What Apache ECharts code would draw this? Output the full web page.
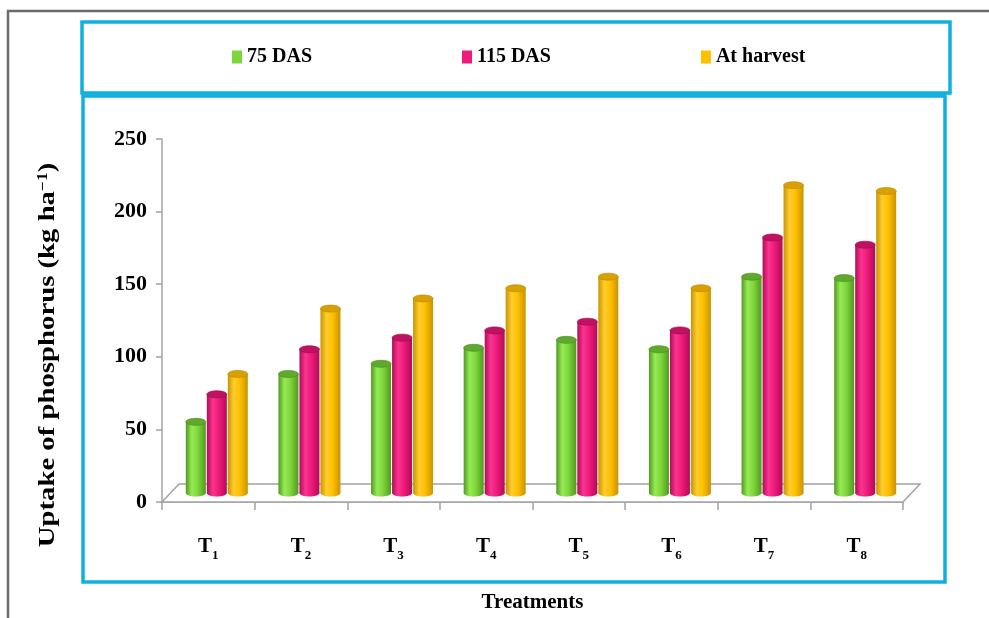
<!DOCTYPE html>
<html>
<head>
<meta charset="utf-8">
<script src="https://cdn.jsdelivr.net/npm/echarts@6/dist/echarts.min.js"></script>
<style>
  html, body { margin: 0; padding: 0; background: #ffffff; }
  #chart { width: 989px; height: 618px; }
</style>
</head>
<body>
<div id="chart"></div>
<script>
// Phosphorus uptake (kg/ha) per treatment at three sampling stages
const categories = ['T1', 'T2', 'T3', 'T4', 'T5', 'T6', 'T7', 'T8'];
const das75     = [49, 82, 89, 100, 105.5, 99, 149, 148];
const das115    = [68, 99, 107, 112, 118, 112, 176, 171];
const atHarvest = [82, 127, 134, 141, 149, 141, 212, 208];
const seriesNames = ['75 DAS', '115 DAS', 'At harvest'];
const yTicks = [0, 50, 100, 150, 200, 250];
const yTitle = 'Uptake of phosphorus (kg ha{sup|\u22121})';

// 3-D look: depth of the floor and spacing of the cylinders in a group
const DEPTH_X = 17, DEPTH_Y = 18;
const SLOT = 21, RADIUS = 10, RY = 3.5;

const palettes = [
  { base: '#7fd63c', light: '#97ea55', dark: '#4f9a20', top: '#5fa92c', edge: '#4a8c1e' },
  { base: '#ee1a7b', light: '#f9358f', dark: '#b10c57', top: '#c01262', edge: '#9a0b4c' },
  { base: '#ffc000', light: '#ffcd2e', dark: '#c99400', top: '#d8a000', edge: '#b98a00' }
];

const FONT = '"Liberation Serif", "Times New Roman", serif';

function cylinder(slot) {
  const p = palettes[slot];
  return function (params, api) {
    const idx = api.value(0);
    const v = api.value(1);
    const top = api.coord([idx, v]);
    const base = api.coord([idx, 0]);
    const cx = top[0] + DEPTH_X / 2 + (slot - 1) * SLOT;
    const yTop = top[1] - DEPTH_Y / 2;
    const yBase = base[1] - DEPTH_Y / 2;
    const grad = new echarts.graphic.LinearGradient(0, 0, 1, 0, [
      { offset: 0, color: p.dark },
      { offset: 0.3, color: p.light },
      { offset: 0.6, color: p.base },
      { offset: 1, color: p.dark }
    ]);
    return {
      type: 'group',
      children: [
        { type: 'ellipse', shape: { cx: cx, cy: yBase, rx: RADIUS, ry: RY }, style: { fill: grad } },
        { type: 'rect', shape: { x: cx - RADIUS, y: yTop, width: RADIUS * 2, height: yBase - yTop }, style: { fill: grad } },
        { type: 'ellipse', shape: { cx: cx, cy: yTop, rx: RADIUS, ry: RY }, style: { fill: p.top, stroke: p.edge, lineWidth: 0.6 } }
      ]
    };
  };
}

function floor(params) {
  const c = params.coordSys;
  const x0 = c.x, x1 = c.x + c.width, yb = c.y + c.height;
  return {
    type: 'polygon',
    shape: { points: [[x0, yb], [x1, yb], [x1 + DEPTH_X, yb - DEPTH_Y], [x0 + DEPTH_X, yb - DEPTH_Y]] },
    style: { fill: '#ffffff', stroke: '#a3a3a3', lineWidth: 1.5 }
  };
}

const values = [das75, das115, atHarvest];

const chart = echarts.init(document.getElementById('chart'), null, { renderer: 'canvas' });
chart.setOption({
  animation: false,
  backgroundColor: '#ffffff',
  graphic: [
    { type: 'rect', silent: true, shape: { x: 8, y: 11, width: 1000, height: 700 },
      style: { fill: 'none', stroke: '#6b6b6b', lineWidth: 2.5 } },
    { type: 'rect', silent: true, shape: { x: 82, y: 22, width: 868, height: 71 },
      style: { fill: 'none', stroke: '#0fb0e0', lineWidth: 3.5 } },
    { type: 'rect', silent: true, shape: { x: 83, y: 96, width: 862, height: 486 },
      style: { fill: 'none', stroke: '#0fb0e0', lineWidth: 3.5 } },
    // vertical axis title, stretched along its length
    { type: 'text', silent: true, x: 48, y: 355, rotation: Math.PI / 2, scaleX: 1.25,
      style: {
        text: yTitle, align: 'center', verticalAlign: 'middle',
        fontFamily: FONT, fontWeight: 'bold', fontSize: 23, fill: '#000',
        rich: { sup: { fontFamily: FONT, fontWeight: 'bold', fontSize: 14, fill: '#000', verticalAlign: 'top' } }
      } }
  ],
  legend: {
    data: seriesNames,
    left: 232,
    top: 47,
    icon: 'rect',
    itemWidth: 10,
    itemHeight: 13,
    itemGap: 150,
    padding: 0,
    textStyle: { fontFamily: FONT, fontWeight: 'bold', fontSize: 20, color: '#000' }
  },
  grid: { left: 162, right: 86, top: 139, bottom: 113, containLabel: false },
  xAxis: {
    type: 'category',
    data: categories,
    boundaryGap: true,
    axisLine: { show: true, lineStyle: { color: '#a3a3a3', width: 1.5 } },
    axisTick: { show: true, length: 8, lineStyle: { color: '#a3a3a3', width: 1.5 } },
    axisLabel: {
      margin: 34,
      formatter: function (v) { return '{t|T}{s|' + v.slice(1) + '}'; },
      rich: {
        t: { fontFamily: FONT, fontWeight: 'bold', fontSize: 21, color: '#000', padding: [0, 0, 5, 0] },
        s: { fontFamily: FONT, fontWeight: 'bold', fontSize: 13, color: '#000', verticalAlign: 'bottom' }
      }
    },
    name: 'Treatments',
    nameLocation: 'middle',
    nameGap: 90,
    nameTextStyle: { fontFamily: FONT, fontWeight: 'bold', fontSize: 21, color: '#000' }
  },
  yAxis: {
    type: 'value',
    min: yTicks[0],
    max: yTicks[yTicks.length - 1],
    interval: 50,
    splitLine: { show: false },
    axisLine: { show: true, lineStyle: { color: '#a3a3a3', width: 1.5 } },
    axisTick: { show: true, length: 6, lineStyle: { color: '#a3a3a3', width: 1.5 } },
    axisLabel: { margin: 15, fontFamily: FONT, fontWeight: 'bold', fontSize: 22, color: '#000' }
  },
  series: [
    { type: 'custom', name: 'floor', z: 1, silent: true, renderItem: floor, data: [[0, 0]] }
  ].concat(seriesNames.map(function (name, i) {
    return {
      type: 'custom',
      name: name,
      z: 2 + i,
      itemStyle: { color: palettes[i].base },
      encode: { x: 0, y: 1 },
      renderItem: cylinder(i),
      data: values[i].map(function (v, k) { return [k, v]; })
    };
  }))
});
</script>
</body>
</html>
